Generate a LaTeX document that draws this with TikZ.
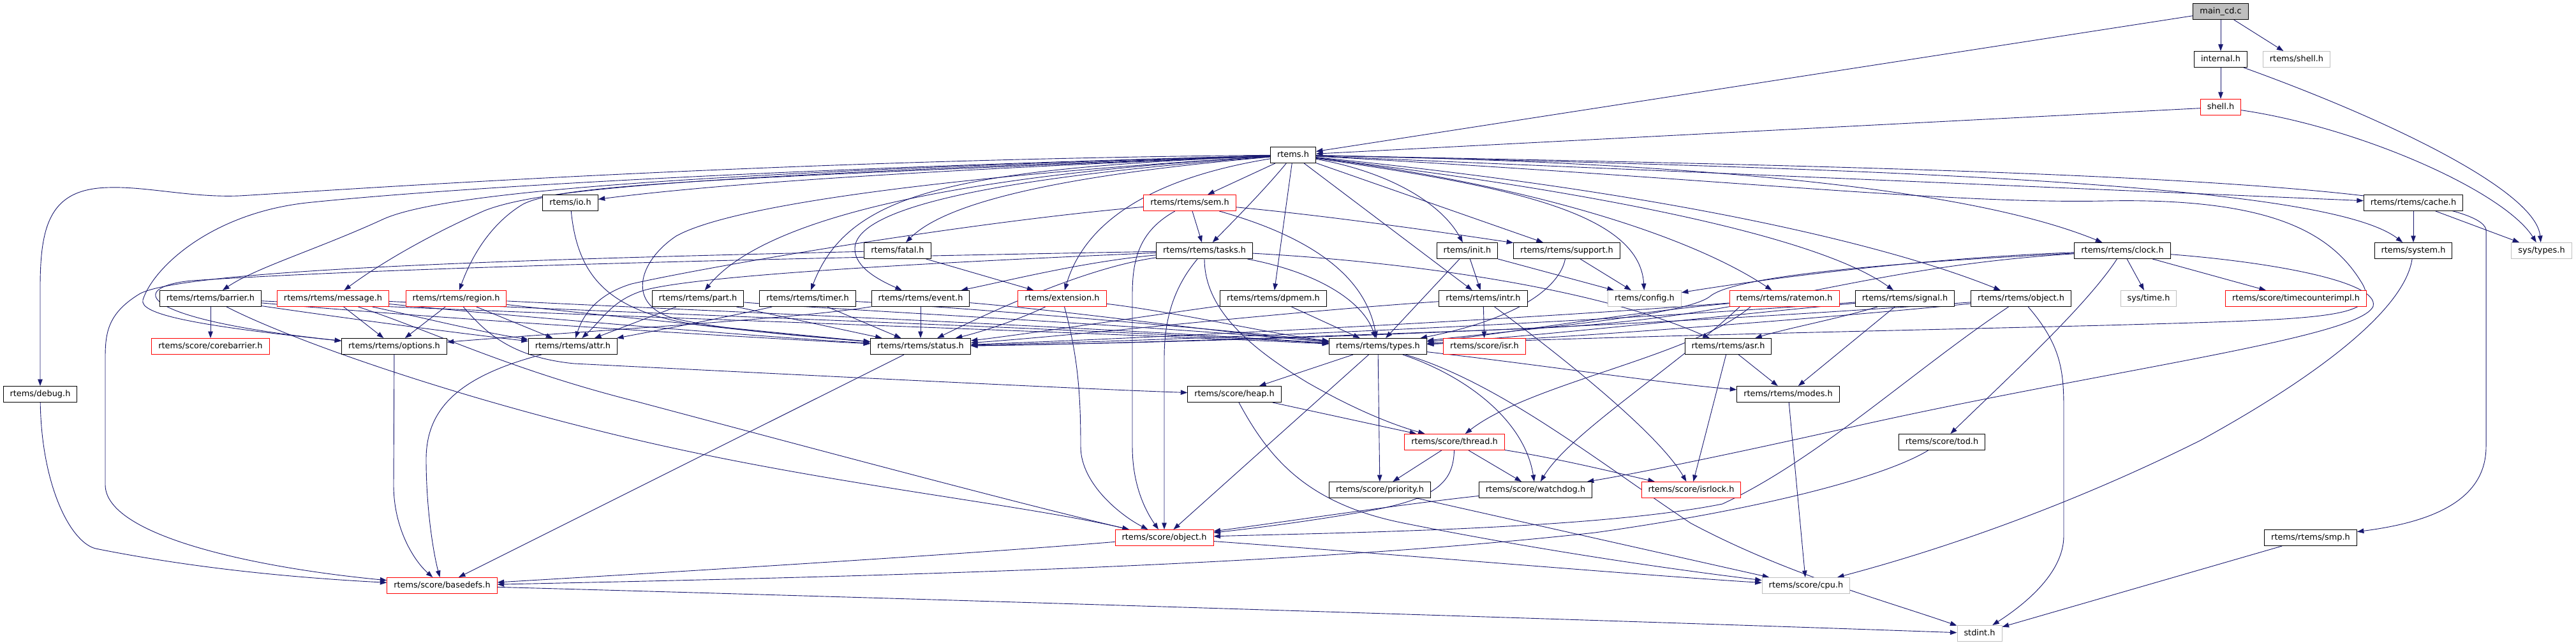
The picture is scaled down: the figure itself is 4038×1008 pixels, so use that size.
\documentclass[tikz,border=0pt]{standalone}
\usepackage{fontspec}
\newfontfamily\depfont{DejaVu Sans}
\usepackage{tikz}
\usetikzlibrary{arrows.meta}
\definecolor{edgeblue}{HTML}{191970}
\definecolor{grey75}{HTML}{BFBFBF}
\pgfdeclarelayer{bg}
\pgfsetlayers{bg,main}

\begin{document}
\begin{tikzpicture}[x=1pt,y=-1pt]
\tikzstyle{every node}=[draw=black, fill=white, line width=1pt, minimum height=25pt, inner xsep=10.5pt, inner ysep=0pt, text height=9.8pt, text depth=2.8pt, font=\depfont\fontsize{12.9}{15}\selectfont]
\tikzstyle{trunc}=[draw=red]
\tikzstyle{nodoc}=[draw=grey75]
\tikzstyle{dep}=[edgeblue, line width=0.9pt, -{Triangle[length=10.5pt,width=7.5pt]}]
\useasboundingbox (0,0) rectangle (4038,1008);
% rows 0 to 3
\draw (3481,18) node (main) [fill=grey75] {main\_cd.c};
\draw (3481,93) node (internal) {internal.h};
\draw (3600,93) node (shellx) [nodoc] {rtems/shell.h};
\draw (3481,168) node (shell) [trunc] {shell.h};
\draw (2027,243) node (rtems) {rtems.h};
% row 4
\draw (894,318) node (io) {rtems/io.h};
\draw (1865,318) node (sem) [trunc] {rtems/rtems/sem.h};
\draw (3783,318) node (cache) {rtems/rtems/cache.h};
% row 5
\draw (1407,393) node (fatal) {rtems/fatal.h};
\draw (1888,393) node (tasks) {rtems/rtems/tasks.h};
\draw (2300,393) node (init) {rtems/init.h};
\draw (2456,393) node (support) {rtems/rtems/support.h};
\draw (3327,393) node (clock) {rtems/rtems/clock.h};
\draw (3783,393) node (system) {rtems/system.h};
\draw (3984,393) node (systypes) [nodoc] {sys/types.h};
% row 6
\draw (330,468) node (barrier) {rtems/rtems/barrier.h};
\draw (522,468) node (message) [trunc] {rtems/rtems/message.h};
\draw (715,468) node (region) [trunc] {rtems/rtems/region.h};
\draw (1094,468) node (part) {rtems/rtems/part.h};
\draw (1266,468) node (timer) {rtems/rtems/timer.h};
\draw (1443,468) node (event) {rtems/rtems/event.h};
\draw (1665,468) node (extension) [trunc] {rtems/extension.h};
\draw (1996,468) node (dpmem) {rtems/rtems/dpmem.h};
\draw (2325,468) node (intr) {rtems/rtems/intr.h};
\draw (2578,468) node (config) [nodoc] {rtems/config.h};
\draw (2797,468) node (ratemon) [trunc] {rtems/rtems/ratemon.h};
\draw (2986,468) node (signal) {rtems/rtems/signal.h};
\draw (3168,468) node (robject) {rtems/rtems/object.h};
\draw (3368,468) node (systime) [nodoc] {sys/time.h};
\draw (3599,468) node (tcimpl) [trunc] {rtems/score/timecounterimpl.h};
% row 7
\draw (330,543) node (corebarrier) [trunc] {rtems/score/corebarrier.h};
\draw (618,543) node (options) {rtems/rtems/options.h};
\draw (898,543) node (attr) {rtems/rtems/attr.h};
\draw (1443,543) node (status) {rtems/rtems/status.h};
\draw (2160,543) node (types) {rtems/rtems/types.h};
\draw (2327,543) node (isr) [trunc] {rtems/score/isr.h};
\draw (2709,543) node (asr) {rtems/rtems/asr.h};
% rows 8 to 13
\draw (63,618) node (debug) {rtems/debug.h};
\draw (1935,618) node (heap) {rtems/score/heap.h};
\draw (2803,618) node (modes) {rtems/rtems/modes.h};
\draw (2280,693) node (thread) [trunc] {rtems/score/thread.h};
\draw (3044,693) node (tod) {rtems/score/tod.h};
\draw (2163,768) node (priority) {rtems/score/priority.h};
\draw (2407,768) node (watchdog) {rtems/score/watchdog.h};
\draw (2651,768) node (isrlock) [trunc] {rtems/score/isrlock.h};
\draw (1825,843) node (object) [trunc] {rtems/score/object.h};
\draw (3622,843) node (smp) {rtems/rtems/smp.h};
\draw (693,918) node (basedefs) [trunc] {rtems/score/basedefs.h};
\draw (2831,918) node (cpu) [nodoc] {rtems/score/cpu.h};
\draw (3103,993) node (stdint) [nodoc] {stdint.h};
\begin{pgfonlayer}{bg}
\fill[white] (0,0) rectangle (4038,1008);
% main_cd.c and the shell headers
\draw[dep] (main) -- (rtems);
\draw[dep] (main) -- (internal);
\draw[dep] (main) -- (shellx);
\draw[dep] (internal) -- (shell);
\draw[dep] (internal) .. controls (3750,190) and (3975,300) .. (systypes);
\draw[dep] (shell) -- (rtems);
\draw[dep] (shell) .. controls (3700,200) and (3925,300) .. (systypes);
% rtems.h, to the left
\draw[dep] (rtems) .. controls (1200,250) and (500,300) .. (375,307) .. controls (300,310) and (230,292) .. (170,294) .. controls (80,296) and (63,350) .. (63,450) -- (debug);
\draw[dep] (rtems) .. controls (1100,270) and (700,300) .. (602,343) .. controls (500,390) and (400,420) .. (barrier);
\draw[dep] (rtems) .. controls (1100,275) and (850,295) .. (760,330) .. controls (680,365) and (600,410) .. (message);
\draw[dep] (rtems) .. controls (1100,280) and (880,290) .. (820,320) .. controls (770,350) and (740,400) .. (region);
\draw[dep] (rtems) .. controls (1200,265) and (700,295) .. (480,318) .. controls (330,335) and (240,420) .. (224,470) .. controls (218,492) and (300,510) .. (options);
\draw[dep] (rtems) .. controls (1500,265) and (1150,285) .. (io);
\draw[dep] (rtems) .. controls (1500,275) and (1200,340) .. (part);
\draw[dep] (rtems) .. controls (1500,265) and (1330,300) .. (timer);
\draw[dep] (rtems) .. controls (1600,275) and (1340,320) .. (1340,390) .. controls (1340,420) and (1380,440) .. (event);
\draw[dep] (rtems) .. controls (1600,280) and (1470,330) .. (fatal);
\draw[dep] (rtems) .. controls (1500,275) and (1150,320) .. (1060,370) .. controls (1000,410) and (980,480) .. (1060,500) .. controls (1150,520) and (1300,530) .. (status);
\draw[dep] (io) .. controls (905,430) and (950,490) .. (1100,510) .. controls (1200,522) and (1300,530) .. (status);
% rtems.h, downwards and to the right
\draw[dep] (rtems) -- (sem);
\draw[dep] (rtems) .. controls (1980,300) and (1930,350) .. (tasks);
\draw[dep] (rtems) .. controls (1800,280) and (1700,350) .. (extension);
\draw[dep] (rtems) -- (dpmem);
\draw[dep] (rtems) -- (intr);
\draw[dep] (rtems) .. controls (2180,270) and (2260,320) .. (init);
\draw[dep] (rtems) -- (support);
\draw[dep] (rtems) .. controls (2350,290) and (2570,330) .. (config);
\draw[dep] (rtems) .. controls (2400,290) and (2650,370) .. (ratemon);
\draw[dep] (rtems) .. controls (2500,300) and (2850,370) .. (signal);
\draw[dep] (rtems) .. controls (2600,300) and (2950,380) .. (robject);
\draw[dep] (rtems) .. controls (2700,255) and (3100,300) .. (clock);
\draw[dep] (rtems) -- (cache);
\draw[dep] (rtems) .. controls (3000,265) and (3650,290) .. (system);
\draw[dep] (rtems) .. controls (3000,262) and (3880,280) .. (3897,360) -- (3897,700) .. controls (3897,790) and (3800,820) .. (smp);
\draw[dep] (rtems) .. controls (2700,280) and (3050,320) .. (3300,315) .. controls (3550,310) and (3650,360) .. (3700,440) .. controls (3740,500) and (3650,500) .. (3300,510) .. controls (2900,520) and (2500,528) .. (types);
% barrier, message, region
\draw[dep] (barrier) -- (corebarrier);
\draw[dep] (barrier) .. controls (550,500) and (700,520) .. (attr);
\draw[dep] (barrier) .. controls (700,500) and (1100,525) .. (status);
\draw[dep] (barrier) .. controls (900,495) and (1700,520) .. (types);
\draw[dep] (barrier) .. controls (450,530) and (700,620) .. (1000,690) .. controls (1300,760) and (1600,790) .. (object);
\draw[dep] (message) -- (options);
\draw[dep] (message) .. controls (650,495) and (750,520) .. (attr);
\draw[dep] (message) .. controls (800,495) and (1150,525) .. (status);
\draw[dep] (message) .. controls (1000,492) and (1700,515) .. (types);
\draw[dep] (message) .. controls (680,520) and (800,580) .. (1000,630) .. controls (1300,710) and (1600,790) .. (object);
\draw[dep] (region) -- (options);
\draw[dep] (region) -- (attr);
\draw[dep] (region) .. controls (900,490) and (1200,520) .. (status);
\draw[dep] (region) .. controls (1100,487) and (1700,512) .. (types);
\draw[dep] (region) .. controls (760,520) and (800,560) .. (900,570) .. controls (1300,590) and (1700,610) .. (heap);
% part, timer, event, fatal
\draw[dep] (part) -- (attr);
\draw[dep] (part) -- (status);
\draw[dep] (part) .. controls (1300,485) and (1800,510) .. (types);
\draw[dep] (timer) .. controls (1150,495) and (1020,520) .. (attr);
\draw[dep] (timer) -- (status);
\draw[dep] (timer) .. controls (1500,482) and (1850,510) .. (types);
\draw[dep] (event) -- (status);
\draw[dep] (event) .. controls (1250,500) and (900,520) .. (options);
\draw[dep] (event) .. controls (1700,490) and (1900,520) .. (types);
\draw[dep] (fatal) .. controls (900,405) and (300,420) .. (220,460) .. controls (170,490) and (165,520) .. (165,560) -- (165,760) .. controls (165,840) and (400,890) .. (basedefs);
\draw[dep] (fatal) -- (extension);
% down to basedefs.h
\draw[dep] (status) -- (basedefs);
\draw[dep] (options) -- (617,760) .. controls (617,830) and (650,880) .. (basedefs);
\draw[dep] (attr) .. controls (720,590) and (668,640) .. (668,720) .. controls (668,800) and (680,870) .. (basedefs);
\draw[dep] (debug) .. controls (65,760) and (110,850) .. (150,860) .. controls (300,890) and (450,905) .. (basedefs);
% sem.h and tasks.h
\draw[dep] (sem) -- (tasks);
\draw[dep] (sem) .. controls (2100,340) and (2300,370) .. (support);
\draw[dep] (sem) .. controls (2050,370) and (2140,430) .. (types);
\draw[dep] (sem) .. controls (1790,360) and (1775,400) .. (1775,460) -- (1775,700) .. controls (1775,760) and (1795,800) .. (object);
\draw[dep] (sem) .. controls (1500,350) and (1100,420) .. (990,445) .. controls (940,460) and (915,490) .. (attr);
\draw[dep] (tasks) .. controls (1200,405) and (600,420) .. (300,440) .. controls (200,450) and (210,500) .. (options);
\draw[dep] (tasks) .. controls (1500,410) and (1100,430) .. (1010,455) .. controls (960,470) and (945,500) .. (attr);
\draw[dep] (tasks) .. controls (1700,410) and (1580,440) .. (event);
\draw[dep] (tasks) .. controls (1700,420) and (1550,490) .. (status);
\draw[dep] (tasks) .. controls (2080,430) and (2140,480) .. (types);
\draw[dep] (tasks) .. controls (1840,450) and (1825,500) .. (1825,560) -- (object);
\draw[dep] (tasks) .. controls (1888,480) and (1950,540) .. (2050,600) .. controls (2120,640) and (2180,665) .. (thread);
\draw[dep] (tasks) .. controls (2200,410) and (2500,450) .. (asr);
% extension, dpmem, intr, init, support
\draw[dep] (extension) .. controls (1600,500) and (1540,520) .. (status);
\draw[dep] (extension) .. controls (1850,490) and (2000,525) .. (types);
\draw[dep] (extension) .. controls (1690,560) and (1694,620) .. (1694,700) .. controls (1694,760) and (1760,810) .. (object);
\draw[dep] (dpmem) -- (types);
\draw[dep] (dpmem) .. controls (1800,495) and (1600,525) .. (status);
\draw[dep] (intr) .. controls (2000,490) and (1700,525) .. (status);
\draw[dep] (intr) -- (isr);
\draw[dep] (intr) .. controls (2450,560) and (2600,680) .. (isrlock);
\draw[dep] (init) -- (intr);
\draw[dep] (init) -- (types);
\draw[dep] (init) -- (config);
\draw[dep] (support) -- (config);
\draw[dep] (support) .. controls (2445,450) and (2380,500) .. (types);
% ratemon, signal, object
\draw[dep] (ratemon) .. controls (2550,490) and (2350,525) .. (types);
\draw[dep] (ratemon) .. controls (2400,500) and (1800,530) .. (status);
\draw[dep] ([xshift=-53]ratemon.south) .. controls (2650,560) and (2400,600) .. (thread);
\draw[dep] ([xshift=-70]ratemon.south) .. controls (2620,580) and (2460,680) .. (watchdog);
\draw[dep] (signal) -- (modes);
\draw[dep] (signal) .. controls (2880,500) and (2800,515) .. (asr);
\draw[dep] (signal) .. controls (2700,495) and (2400,528) .. (types);
\draw[dep] (signal) .. controls (2500,505) and (1900,532) .. (status);
\draw[dep] (robject) .. controls (2850,500) and (2450,530) .. (types);
\draw[dep] (robject) .. controls (2600,510) and (2000,535) .. (status);
\draw[dep] (robject) .. controls (3000,580) and (2850,720) .. (2700,790) .. controls (2500,830) and (2100,835) .. (object);
\draw[dep] (robject) .. controls (3230,540) and (3235,580) .. (3235,640) -- (3235,840) .. controls (3235,900) and (3170,950) .. (stdint);
% clock, cache, system, smp, tod
\draw[dep] (clock) .. controls (3000,405) and (2750,440) .. (config);
\draw[dep] (clock) .. controls (3000,410) and (2720,430) .. (2680,465) .. controls (2640,495) and (2400,515) .. (types);
\draw[dep] (clock) .. controls (2900,420) and (2750,500) .. (2400,515) .. controls (2000,530) and (1700,540) .. (status);
\draw[dep] (clock) -- (systime);
\draw[dep] (clock) -- (tcimpl);
\draw[dep] (clock) .. controls (3270,480) and (3150,590) .. (tod);
\draw[dep] (clock) .. controls (3550,410) and (3730,440) .. (3720,480) .. controls (3700,530) and (3300,580) .. (2900,670) .. controls (2700,715) and (2550,745) .. (watchdog);
\draw[dep] (cache) -- (system);
\draw[dep] (cache) -- (systypes);
\draw[dep] (system) .. controls (3770,480) and (3650,580) .. (3450,690) .. controls (3250,790) and (3050,860) .. (cpu);
\draw[dep] (smp) -- (stdint);
\draw[dep] (tod) .. controls (2950,750) and (2750,800) .. (2500,835) .. controls (2000,890) and (1300,905) .. (basedefs);
% types.h and the score headers
\draw[dep] (types) -- (object);
\draw[dep] (types) -- (heap);
\draw[dep] (types) -- (priority);
\draw[dep] (types) .. controls (2300,590) and (2390,660) .. (watchdog);
\draw[dep] (types) .. controls (2350,600) and (2500,720) .. (2650,820) .. controls (2800,900) and (2950,940) .. (stdint);
\draw[dep] (types) .. controls (2400,570) and (2600,600) .. (modes);
\draw[dep] (heap) -- (thread);
\draw[dep] (heap) .. controls (1990,720) and (2050,790) .. (2200,820) .. controls (2400,860) and (2600,890) .. (cpu);
\draw[dep] (thread) -- (priority);
\draw[dep] (thread) -- (watchdog);
\draw[dep] (thread) .. controls (2450,720) and (2550,745) .. (isrlock);
\draw[dep] (thread) .. controls (2278,750) and (2260,780) .. (2150,800) .. controls (2050,818) and (1950,830) .. (object);
\draw[dep] (watchdog) .. controls (2200,790) and (2000,820) .. (object);
\draw[dep] (priority) -- (cpu);
\draw[dep] (asr) -- (modes);
\draw[dep] (asr) -- (isrlock);
\draw[dep] (modes) -- (cpu);
\draw[dep] (object) .. controls (1500,870) and (1000,900) .. (basedefs);
\draw[dep] (object) .. controls (2200,870) and (2550,900) .. (cpu);
\draw[dep] (basedefs) .. controls (1500,940) and (2600,975) .. (stdint);
\end{pgfonlayer}
\end{tikzpicture}
\end{document}
